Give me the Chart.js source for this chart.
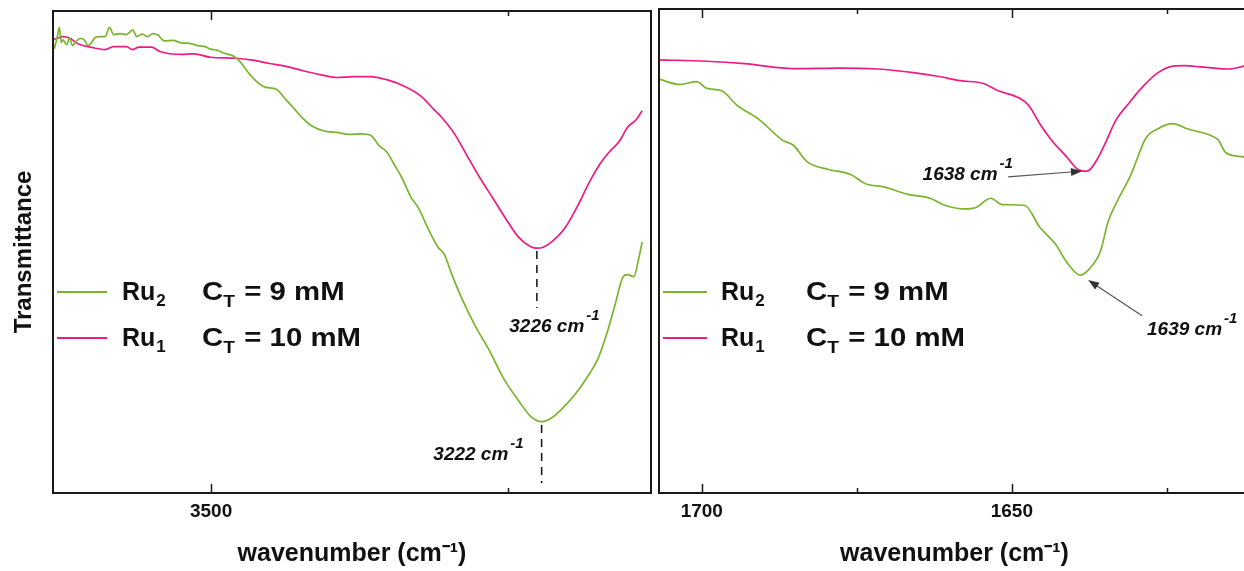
<!DOCTYPE html>
<html lang="en">
<head>
<meta charset="UTF-8">
<title>FTIR spectra – Ru1 / Ru2</title>
<script src="https://cdn.jsdelivr.net/npm/chart.js"></script>
<style>
  html, body { margin: 0; padding: 0; background: #fff; overflow: hidden; }
  #wrap { position: relative; width: 1244px; height: 571px; overflow: hidden; }
  #oh { position: absolute; left: 0; top: 0; }
  #amide { position: absolute; left: 655px; top: 0; }
</style>
</head>
<body>
<div id="wrap">
  <canvas id="oh" width="655" height="571"></canvas>
  <canvas id="amide" width="600" height="571"></canvas>
</div>
<script>
const GREEN = '#79b52d';
const PINK = '#ee1b84';
const INK = '#111';
const FONT = "'Liberation Sans', Arial, sans-serif";
Chart.defaults.font.family = FONT;

// O-H stretching region (cm-1, transmittance a.u.)
const ohRu2Wn = [3632, 3629.5, 3627.7, 3626, 3624.5, 3621.5, 3619.2, 3616.5, 3613.8, 3610, 3606.7, 3603.8, 3601.4, 3597.5,
  3594.4, 3589.1, 3585.5, 3582, 3576.5, 3571.3, 3568.5, 3566, 3562.5, 3558, 3553.6, 3549, 3544.8, 3539.5, 3532, 3525.3,
  3518, 3511.1, 3505, 3500.5, 3494, 3489.8, 3481, 3475.7, 3468.6, 3461.5, 3454.4, 3445.5, 3436.7, 3429.6, 3424.3, 3415.5,
  3404.8, 3394.2, 3383.6, 3372.9, 3365.8, 3358.8, 3351.7, 3346.4, 3339.3, 3332.2, 3325.1, 3318, 3309.2, 3303.9, 3296.8,
  3287.9, 3277.3, 3266.7, 3254.3, 3241.8, 3231.2, 3222, 3214.1, 3203.5, 3192.8, 3182.2, 3175.1, 3167.4, 3160.4, 3153.3,
  3149.7, 3144.4, 3140.9, 3137.4];
const ohRu2T = [92.1, 94.5, 96.6, 93.5, 94.0, 93.0, 94.4, 92.8, 93.6, 94.3, 94.0, 92.9, 93.2, 94.5,
  94.7, 94.7, 96.6, 95.1, 95.3, 95.1, 95.6, 96.1, 94.7, 95.2, 94.7, 95.3, 95.0, 93.8, 93.9, 93.4,
  93.3, 92.8, 92.6, 92.1, 91.8, 91.3, 90.6, 89.5, 87.2, 85.3, 84.2, 83.8, 81.5, 79.6, 78.1, 76.2,
  75.1, 74.8, 74.4, 74.5, 74.2, 72.1, 70.6, 68.3, 65.3, 61.5, 58.9, 55.1, 51.0, 49.5, 44.9,
  39.7, 34.4, 29.9, 23.9, 19.3, 15.9, 14.8, 15.5, 17.8, 20.8, 24.6, 27.6, 32.9, 38.9, 44.9,
  45.3, 44.9, 48.0, 52.1];
const ohRu1Wn = [3632.2, 3624.5, 3619.2, 3612, 3601.4, 3589.1, 3582, 3571.3, 3566, 3560.7, 3550.1, 3543, 3525.3, 3514.6,
  3500.5, 3479.2, 3465.1, 3450.8, 3436.7, 3422.6, 3408.3, 3394.2, 3380.1, 3365.8, 3351.7, 3337.5, 3323.3, 3312.7, 3305.6,
  3295, 3284.3, 3273.7, 3263.1, 3252.4, 3241.8, 3231.2, 3226, 3220.6, 3213.6, 3202.9, 3192.3, 3181.6, 3172.8, 3165.7,
  3156.8, 3149.7, 3142.7, 3137.4];
const ohRu1T = [94.1, 94.7, 94.4, 93.2, 92.5, 92.0, 92.6, 92.6, 92.0, 92.5, 92.5, 91.6, 91.0, 91.1,
  90.4, 90.2, 89.8, 89.1, 88.5, 87.6, 86.8, 86.2, 86.4, 86.4, 85.7, 84.4, 82.3, 79.6, 77.8,
  74.4, 69.8, 65.3, 61.2, 57.0, 53.2, 51.1, 50.8, 51.0, 52.1, 54.8, 59.3, 64.6, 68.3, 70.6,
  72.9, 75.9, 77.4, 79.3];

// C=O / amide region
const amRu2Wn = [1706.9, 1703.5, 1700.8, 1699.2, 1696.8, 1694.3, 1690.7, 1687, 1685.2, 1683, 1679.7, 1676, 1673.6, 1670.5,
  1666.8, 1663.2, 1660.7, 1657.7, 1655.8, 1653.4, 1651.6, 1647.9, 1645.5, 1643, 1641.2, 1639, 1637.5, 1635.7, 1634.5,
  1633.2, 1630.8, 1628.4, 1626.5, 1624.1, 1621.6, 1618, 1616.7, 1615.5, 1612.6, 1611.5];
const amRu2T = [85.5, 84.4, 85.0, 83.6, 83.1, 80.1, 77.1, 72.9, 71.8, 68.4, 66.9, 65.8, 63.9, 63.2,
  61.7, 60.9, 59.4, 58.7, 59.0, 60.9, 59.6, 59.4, 54.9, 51.5, 47.8, 45.0, 46.3, 50.0, 56.0,
  59.8, 65.8, 73.3, 75.2, 76.3, 75.2, 73.9, 72.9, 70.3, 69.4, 69.0];
const amRu1Wn = [1706.9, 1699.2, 1693.1, 1685.2, 1677.8, 1671.7, 1665.6, 1662, 1658.3, 1654.6, 1652.2, 1648.8, 1647.3,
  1645.5, 1643.6, 1641.2, 1639.4, 1638, 1637.5, 1636.3, 1635.1, 1633.2, 1631.4, 1629, 1626.5, 1624.7, 1622.2, 1619.2,
  1614.9, 1612.6, 1611.5];
const amRu1T = [89.5, 89.2, 88.7, 87.7, 87.8, 87.6, 86.8, 86.1, 85.2, 84.6, 83.1, 81.6, 80.1,
  76.3, 72.9, 69.5, 66.9, 66.5, 66.7, 68.8, 71.8, 77.1, 80.1, 83.8, 86.8, 88.0, 88.3, 88.0,
  87.6, 88.2, 88.5];

const ohTicks = [3500, 3250];
const ohLabeled = [3500];
const amTicks = [1700, 1675, 1650, 1625];
const amLabeled = [1700, 1650];

const legendRows = [
  { name: 'Ru', sub: '2', conc: '9 mM', color: GREEN },
  { name: 'Ru', sub: '1', conc: '10 mM', color: PINK }
];

// dashed drop lines under the O-H minima
const ohPeaks = [
  { wn: 3226, from: 50.2, to: 38.4, label: '3226', lx: 3249.2, ly: 33.4 },
  { wn: 3222, from: 14.1, to: 2.1, label: '3222', lx: 3313.1, ly: 6.8 }
];
// arrows pointing at the amide minima
const amPeaks = [
  { wn: 1638, tipWn: 1638.7, tipT: 66.5, tailWn: 1650.6, tailT: 65.3, label: '1638', lx: 1664.4, ly: 64.7 },
  { wn: 1639, tipWn: 1637.7, tipT: 44.0, tailWn: 1629.0, tailT: 36.6, label: '1639', lx: 1628.2, ly: 32.6 }
];

function cmLabel(ctx, x, y, num) {
  ctx.fillStyle = INK;
  ctx.textAlign = 'left';
  ctx.textBaseline = 'alphabetic';
  ctx.font = `italic bold 19px ${FONT}`;
  const main = num + ' cm';
  ctx.fillText(main, x, y);
  const w = ctx.measureText(main).width;
  ctx.font = `italic bold 15px ${FONT}`;
  ctx.fillText('-1', x + w + 2, y - 12);
}

function arrow(ctx, x0, y0, x1, y1) {
  const ang = Math.atan2(y1 - y0, x1 - x0);
  ctx.strokeStyle = '#555';
  ctx.fillStyle = '#333';
  ctx.lineWidth = 1.2;
  ctx.beginPath();
  ctx.moveTo(x0, y0);
  ctx.lineTo(x1 - 8 * Math.cos(ang), y1 - 8 * Math.sin(ang));
  ctx.stroke();
  ctx.beginPath();
  ctx.moveTo(x1, y1);
  ctx.lineTo(x1 - 11 * Math.cos(ang) + 4 * Math.sin(ang), y1 - 11 * Math.sin(ang) - 4 * Math.cos(ang));
  ctx.lineTo(x1 - 11 * Math.cos(ang) - 4 * Math.sin(ang), y1 - 11 * Math.sin(ang) + 4 * Math.cos(ang));
  ctx.closePath();
  ctx.fill();
}

function legendRow(ctx, lay, baseline, row) {
  ctx.strokeStyle = row.color;
  ctx.lineWidth = 2;
  ctx.beginPath();
  ctx.moveTo(lay.line0, baseline - 8);
  ctx.lineTo(lay.line1, baseline - 8);
  ctx.stroke();

  ctx.fillStyle = INK;
  ctx.textAlign = 'left';
  ctx.textBaseline = 'alphabetic';
  ctx.font = `bold 25px ${FONT}`;
  ctx.fillText(row.name, lay.name, baseline);
  let w = ctx.measureText(row.name).width;
  ctx.font = `bold 17px ${FONT}`;
  ctx.fillText(row.sub, lay.name + w + 1, baseline + 6);

  // concentration part is set slightly stretched
  ctx.save();
  ctx.translate(lay.conc, baseline);
  ctx.scale(1.13, 1);
  ctx.font = `bold 26px ${FONT}`;
  ctx.fillText('C', 0, 0);
  w = ctx.measureText('C').width;
  ctx.font = `bold 17px ${FONT}`;
  ctx.fillText('T', w, 7);
  const wT = ctx.measureText('T').width;
  ctx.font = `bold 26px ${FONT}`;
  ctx.fillText(' = ' + row.conc, w + wT + 1, 0);
  ctx.restore();
}

const spectrumDecor = {
  id: 'spectrumDecor',
  afterDraw(chart, args, opts) {
    const { ctx, chartArea: a, scales: { x, y } } = chart;
    ctx.save();

    // inward tick marks on bottom and top edges
    ctx.strokeStyle = '#1a1a1a';
    ctx.lineWidth = 1.5;
    opts.ticks.forEach(v => {
      const px = Math.round(x.getPixelForValue(v)) + 0.5;
      const len = opts.labeled.includes(v) ? 9 : 5;
      ctx.beginPath();
      ctx.moveTo(px, a.bottom); ctx.lineTo(px, a.bottom - len);
      ctx.moveTo(px, a.top); ctx.lineTo(px, a.top + len);
      ctx.stroke();
    });

    // box frame
    ctx.lineWidth = 2;
    ctx.strokeStyle = '#1a1a1a';
    ctx.strokeRect(a.left, a.top, a.right - a.left, a.bottom - a.top);

    (opts.drops || []).forEach(p => {
      const px = x.getPixelForValue(p.wn);
      ctx.strokeStyle = '#111';
      ctx.lineWidth = 1.5;
      ctx.setLineDash([8, 6]);
      ctx.beginPath();
      ctx.moveTo(px, y.getPixelForValue(p.from));
      ctx.lineTo(px, y.getPixelForValue(p.to));
      ctx.stroke();
      ctx.setLineDash([]);
      cmLabel(ctx, x.getPixelForValue(p.lx), y.getPixelForValue(p.ly), p.label);
    });

    (opts.arrows || []).forEach(p => {
      arrow(ctx, x.getPixelForValue(p.tailWn), y.getPixelForValue(p.tailT),
        x.getPixelForValue(p.tipWn), y.getPixelForValue(p.tipT));
      cmLabel(ctx, x.getPixelForValue(p.lx), y.getPixelForValue(p.ly), p.label);
    });

    legendRows.forEach((row, i) => legendRow(ctx, opts.legend, opts.legend.rows[i], row));
    ctx.restore();
  }
};

function spectrumChart(id, cfg) {
  const yScale = cfg.yTitle
    ? {
        min: 0, max: 100,
        afterFit: s => { s.width = 53; },
        ticks: { display: false },
        grid: { display: false, drawTicks: false },
        border: { display: false },
        title: { display: true, text: cfg.yTitle, color: INK, font: { size: 24, weight: 'bold' }, padding: { top: 10, bottom: 0 } }
      }
    : { display: false, min: 0, max: 100 };

  return new Chart(document.getElementById(id), {
    type: 'line',
    data: {
      datasets: cfg.series.map(s => ({
        label: s.label,
        data: s.wn.map((w, i) => ({ x: w, y: s.t[i] })),
        borderColor: s.color,
        borderWidth: 1.7,
        pointRadius: 0,
        fill: false,
        cubicInterpolationMode: 'monotone'
      }))
    },
    options: {
      responsive: false,
      animation: false,
      events: [],
      layout: { padding: cfg.padding },
      plugins: {
        legend: { display: false },
        tooltip: { enabled: false },
        spectrumDecor: cfg.decor
      },
      scales: {
        x: {
          type: 'linear',
          reverse: true,
          min: cfg.min,
          max: cfg.max,
          afterFit: s => { s.height = 78; },
          afterBuildTicks: s => { s.ticks = cfg.ticks.map(v => ({ value: v })); },
          ticks: {
            autoSkip: false,
            maxRotation: 0,
            padding: 7,
            color: INK,
            font: { size: 19, weight: 'bold' },
            callback: v => cfg.labeled.includes(v) ? String(v) : ''
          },
          grid: { display: false, drawTicks: false },
          border: { display: false },
          title: {
            display: true,
            text: 'wavenumber (cm⁻¹)',
            color: INK,
            font: { size: 25, weight: 'bold' },
            padding: { top: 0, bottom: 2 }
          }
        },
        y: yScale
      }
    },
    plugins: [spectrumDecor]
  });
}

spectrumChart('oh', {
  min: 3130, max: 3633,
  ticks: ohTicks, labeled: ohLabeled,
  yTitle: 'Transmittance',
  padding: { top: 11, right: 4, left: 0, bottom: 0 },
  series: [
    { label: 'Ru2', wn: ohRu2Wn, t: ohRu2T, color: GREEN },
    { label: 'Ru1', wn: ohRu1Wn, t: ohRu1T, color: PINK }
  ],
  decor: {
    ticks: ohTicks, labeled: ohLabeled, drops: ohPeaks,
    legend: { line0: 57, line1: 107, name: 122, conc: 202, rows: [300, 346] }
  }
});

spectrumChart('amide', {
  min: 1611.6, max: 1706.9,
  ticks: amTicks, labeled: amLabeled,
  padding: { top: 9, right: 5, left: 4, bottom: 0 },
  series: [
    { label: 'Ru2', wn: amRu2Wn, t: amRu2T, color: GREEN },
    { label: 'Ru1', wn: amRu1Wn, t: amRu1T, color: PINK }
  ],
  decor: {
    ticks: amTicks, labeled: amLabeled, arrows: amPeaks,
    legend: { line0: 8, line1: 52, name: 66, conc: 151, rows: [300, 346] }
  }
});
</script>
</body>
</html>
